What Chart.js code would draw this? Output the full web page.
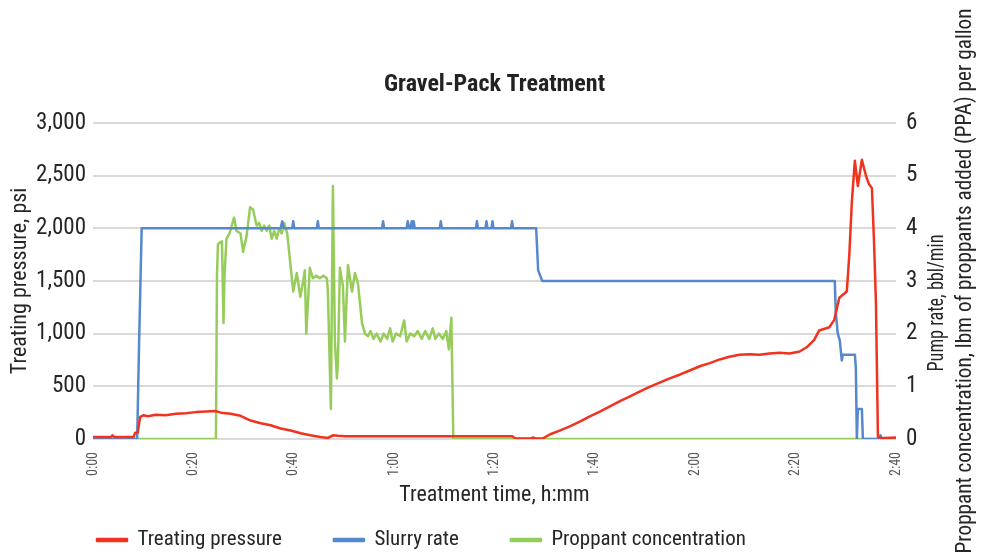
<!DOCTYPE html>
<html>
<head>
<meta charset="utf-8">
<script src="https://cdn.jsdelivr.net/npm/chart.js@4.4.1/dist/chart.umd.min.js"></script>
<style>
    html, body { margin: 0; padding: 0; background: #fff; }
</style>
</head>
<body>
<canvas id="gravelChart" width="989" height="552"></canvas>
<script>
// Treating pressure (psi) vs time (min)
const pressureTime = [0, 3.6, 3.9, 4.2, 8.1, 8.4, 8.9, 9.4, 10.0, 11.0, 12.5, 14.5, 16.5, 18.5, 20.5, 22.5, 24.5, 25.5, 27.4, 29.4, 31.4, 33.4, 35.4, 37.4, 39.4, 41.4, 43.3, 45.3, 46.8, 47.8, 48.8, 50.3, 60.2, 70.2, 80.1, 83.6, 84.1, 87.1, 87.8, 88.1, 89.6, 91.1, 93.0, 95.0, 97.0, 99.0, 101.0, 103.0, 105.0, 107.0, 108.9, 110.9, 112.9, 114.9, 116.9, 118.9, 120.9, 122.9, 124.9, 126.8, 128.8, 130.8, 132.8, 134.8, 136.8, 138.8, 140.8, 142.2, 143.7, 144.7, 146.7, 147.7, 148.7, 150.2, 150.7, 151.2, 151.8, 152.4, 153.2, 154.0, 154.6, 155.2, 155.6, 156.0, 156.4, 156.9, 157.7, 160];
const pressureVal = [20, 20, 35, 20, 20, 60, 60, 210, 225, 215, 230, 225, 240, 245, 255, 260, 265, 250, 240, 220, 175, 150, 130, 100, 80, 55, 35, 20, 10, 35, 30, 25, 25, 25, 25, 25, 5, 5, 15, 5, 5, 45, 80, 120, 165, 215, 260, 310, 360, 405, 450, 495, 535, 575, 610, 650, 690, 720, 755, 780, 800, 805, 800, 812, 818, 812, 830, 870, 940, 1030, 1060, 1130, 1340, 1400, 1750, 2250, 2640, 2400, 2650, 2500, 2420, 2380, 1900, 1300, 20, 10, 10, 15];

// Slurry rate (bbl/min) vs time (min)
const rateTime = [0, 8.8, 9.2, 9.7, 37.4, 37.7, 38.0, 39.7, 39.9, 40.1, 44.6, 44.8, 45.0, 57.6, 57.8, 58.0, 62.5, 62.7, 63.0, 63.3, 63.5, 63.7, 63.9, 64.1, 69.1, 69.3, 69.5, 76.3, 76.5, 76.7, 78.2, 78.4, 78.6, 79.4, 79.6, 79.8, 83.3, 83.5, 83.7, 88.3, 88.7, 89.5, 147.8, 148.0, 148.4, 148.8, 149.2, 149.4, 151.8, 152.0, 152.2, 152.4, 153.2, 153.4, 156.7, 156.9, 157.2, 160];
const rateVal = [0, 0, 1.9, 4, 4, 4.13, 4, 4, 4.13, 4, 4, 4.13, 4, 4, 4.13, 4, 4, 4.13, 4, 4, 4.13, 4, 4.13, 4, 4, 4.13, 4, 4, 4.13, 4, 4, 4.13, 4, 4, 4.13, 4, 4, 4.13, 4, 4, 3.2, 3, 3, 2.4, 2.0, 1.87, 1.49, 1.6, 1.6, 1.35, 0, 0.57, 0.57, 0, 0, 0.07, 0, 0];

// Proppant concentration (PPA) vs time (min)
const propTime = [0, 24.5, 24.7, 24.9, 25.7, 26.0, 26.2, 26.6, 27.2, 28.1, 28.6, 29.4, 29.9, 30.6, 31.3, 31.9, 32.6, 33.1, 33.6, 34.1, 34.6, 35.1, 35.6, 36.1, 36.6, 37.1, 37.6, 38.1, 38.7, 39.4, 39.9, 40.6, 41.3, 41.9, 42.2, 42.5, 43.2, 43.8, 44.5, 45.2, 45.9, 46.6, 46.8, 47.4, 47.8, 48.2, 48.6, 48.8, 49.2, 49.8, 50.2, 50.8, 51.6, 52.2, 52.8, 53.6, 54.2, 54.8, 55.3, 55.9, 56.5, 57.3, 57.9, 58.6, 59.2, 59.7, 60.4, 61.2, 62.0, 62.5, 63.2, 64.0, 64.7, 65.5, 66.2, 67.0, 67.7, 68.2, 68.9, 69.7, 70.4, 70.9, 71.4, 71.8, 160];
const propVal = [0, 0, 3.1, 3.7, 3.75, 2.2, 3.1, 3.8, 3.9, 4.2, 3.95, 3.9, 3.55, 3.85, 4.4, 4.35, 4.05, 4.1, 3.95, 4.05, 3.95, 4.05, 3.8, 3.95, 3.8, 4.0, 3.9, 4.1, 3.9, 3.25, 2.8, 3.15, 2.7, 3.0, 3.2, 2.0, 3.25, 3.05, 3.1, 3.05, 3.1, 3.05, 2.8, 0.57, 4.8, 1.85, 1.15, 1.45, 3.25, 2.9, 1.85, 3.3, 2.8, 3.15, 2.95, 2.2, 2.0, 1.95, 2.05, 1.9, 2.0, 1.85, 2.0, 1.9, 2.1, 1.85, 2.0, 1.95, 2.25, 1.85, 2.0, 1.95, 2.05, 1.9, 2.05, 1.9, 2.1, 1.9, 2.0, 1.9, 2.05, 1.7, 2.3, 0, 0];

const pressureTicks = [0, 500, 1000, 1500, 2000, 2500, 3000];
const rateTicks = [0, 1, 2, 3, 4, 5, 6];

// use a condensed face if one is installed, else plain Roboto
function pickFont(candidates, fallback) {
    const c = document.createElement('canvas').getContext('2d');
    const s = 'Treating pressure 3,000';
    for (const f of candidates) {
        c.font = '40px monospace';
        const a = c.measureText(s).width;
        c.font = '40px "' + f + '", monospace';
        const b = c.measureText(s).width;
        if (a !== b) return f;
    }
    return fallback;
}
const FAMILY = pickFont(['Roboto Condensed', 'Liberation Sans Narrow', 'DejaVu Sans Condensed', 'Noto Sans Condensed', 'Open Sans Condensed'], 'Roboto');
const CONDENSED = FAMILY !== 'Roboto';
const FONT = '"' + FAMILY + '", sans-serif';
const BIG = CONDENSED ? 23 : 19;
const MID = CONDENSED ? 22 : 18;
const LEG = CONDENSED ? 21 : 17;
const SMALL = CONDENSED ? 14 : 12;

function toPoints(xs, ys) {
    return xs.map((x, i) => ({ x: x, y: ys[i] }));
}

function fmtTime(v) {
    const h = Math.floor(v / 60);
    const m = Math.round(v % 60);
    return h + ':' + (m < 10 ? '0' : '') + m;
}

// draw a rotated (bottom-to-top) label squeezed to a given length
function drawVertical(ctx, text, cx, cy, length) {
    ctx.save();
    ctx.fillStyle = '#262626';
    ctx.font = MID + 'px ' + FONT;
    ctx.textAlign = 'center';
    ctx.textBaseline = 'middle';
    ctx.translate(cx, cy);
    ctx.rotate(-Math.PI / 2);
    const w = ctx.measureText(text).width;
    ctx.scale(Math.min(1, length / w), 1);
    ctx.fillText(text, 0, 0);
    ctx.restore();
}

// right side titles read bottom-to-top, so draw them here
const rightTitles = {
    id: 'rightTitles',
    afterDraw(chart) {
        drawVertical(chart.ctx, 'Pump rate, bbl/min', 937, 303, 137);
        drawVertical(chart.ctx, 'Proppant concentration, lbm of proppants added (PPA) per gallon', 965, 281, 545);
    }
};

// keep the legend short and put it under the plot, left aligned
const legendTweak = {
    id: 'legendTweak',
    beforeLayout(chart) {
        const lg = chart.legend;
        if (lg && !lg._tweaked) {
            const fit = lg.fit;
            lg.fit = function() {
                fit.call(this);
                this.height = 36;
            };
            lg._tweaked = true;
        }
    },
    afterLayout(chart) {
        const lg = chart.legend;
        const pad = lg.options.labels.padding;
        lg.left += 45;
        lg.right += 45;
        lg.top = 540 - pad - LEG / 2;
        lg.bottom = chart.height;
        lg.height = lg.bottom - lg.top;
    }
};

document.addEventListener('DOMContentLoaded', function() {
    const ctx = document.getElementById('gravelChart').getContext('2d');

    new Chart(ctx, {
        type: 'line',
        data: {
            datasets: [
                {
                    label: 'Treating pressure',
                    data: toPoints(pressureTime, pressureVal),
                    borderColor: '#f0321e',
                    backgroundColor: '#f0321e',
                    yAxisID: 'y'
                },
                {
                    label: 'Slurry rate',
                    data: toPoints(rateTime, rateVal),
                    borderColor: '#5588cc',
                    backgroundColor: '#5588cc',
                    yAxisID: 'y1'
                },
                {
                    label: 'Proppant concentration',
                    data: toPoints(propTime, propVal),
                    borderColor: '#96cd5a',
                    backgroundColor: '#96cd5a',
                    yAxisID: 'y1'
                }
            ]
        },
        options: {
            responsive: false,
            animation: false,
            elements: {
                point: { radius: 0 },
                line: { tension: 0, borderWidth: 2.5, borderJoinStyle: 'round', borderCapStyle: 'round' }
            },
            layout: {
                padding: { top: 71, left: 0, right: 0, bottom: 2 }
            },
            plugins: {
                title: {
                    display: true,
                    text: 'Gravel-Pack Treatment',
                    color: '#222',
                    font: { family: FONT, size: BIG + 1, weight: 'bold' },
                    padding: { top: 0, bottom: 23 }
                },
                legend: {
                    position: 'bottom',
                    align: 'start',
                    labels: {
                        boxWidth: 30,
                        boxHeight: 2,
                        padding: 52,
                        color: '#262626',
                        font: { family: FONT, size: LEG }
                    }
                },
                tooltip: { enabled: false }
            },
            scales: {
                x: {
                    type: 'linear',
                    min: 0,
                    max: 160,
                    afterFit: function(scale) {
                        scale.height = 75;
                    },
                    grid: { display: false, drawTicks: false },
                    border: { display: false },
                    ticks: {
                        stepSize: 20,
                        minRotation: 90,
                        maxRotation: 90,
                        padding: 13,
                        color: '#595959',
                        font: { family: FONT, size: SMALL },
                        callback: function(value) {
                            return fmtTime(value);
                        }
                    },
                    title: {
                        display: true,
                        text: 'Treatment time, h:mm',
                        color: '#262626',
                        font: { family: FONT, size: MID },
                        padding: { top: 0, bottom: 5 }
                    }
                },
                y: {
                    position: 'left',
                    min: 0,
                    max: 3000,
                    afterBuildTicks: function(scale) {
                        scale.ticks = pressureTicks.map(v => ({ value: v }));
                    },
                    afterFit: function(scale) {
                        scale.width = 93;
                    },
                    grid: {
                        color: '#d9d9d9',
                        lineWidth: 2,
                        drawTicks: false
                    },
                    border: { display: false },
                    ticks: {
                        padding: 7,
                        color: '#262626',
                        font: { family: FONT, size: BIG },
                        callback: function(value) {
                            return value.toLocaleString('en-US');
                        }
                    },
                    title: {
                        display: true,
                        text: 'Treating pressure, psi',
                        color: '#262626',
                        font: { family: FONT, size: MID },
                        padding: { top: 7, bottom: 0 }
                    }
                },
                y1: {
                    position: 'right',
                    min: 0,
                    max: 6,
                    afterBuildTicks: function(scale) {
                        scale.ticks = rateTicks.map(v => ({ value: v }));
                    },
                    afterFit: function(scale) {
                        scale.width = 93;
                    },
                    grid: { display: false, drawTicks: false },
                    border: { display: false },
                    ticks: {
                        padding: 10,
                        color: '#262626',
                        font: { family: FONT, size: BIG }
                    }
                }
            }
        },
        plugins: [rightTitles, legendTweak]
    });
});
</script>
</body>
</html>
